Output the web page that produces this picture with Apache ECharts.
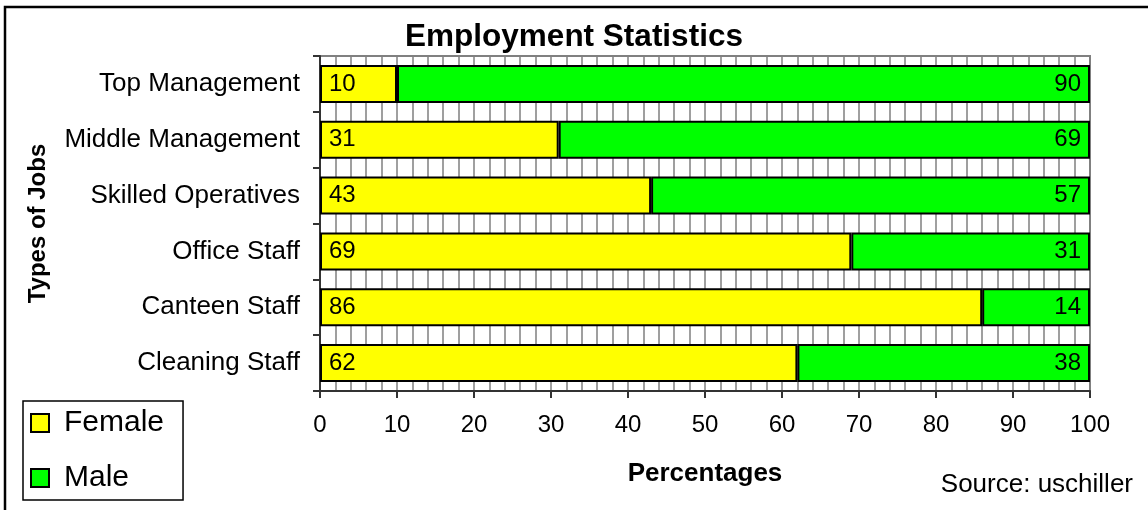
<!DOCTYPE html>
<html>
<head>
<meta charset="utf-8">
<script src="https://cdn.jsdelivr.net/npm/echarts@6/dist/echarts.min.js"></script>
<style>
html,body{margin:0;padding:0;background:#fff;}
#chart{width:1148px;height:510px;}
</style>
</head>
<body>
<div id="chart"></div>
<script>
const categories = ['Top Management','Middle Management','Skilled Operatives','Office Staff','Canteen Staff','Cleaning Staff'];
const female = [10, 31, 43, 69, 86, 62];
const male = [90, 69, 57, 31, 14, 38];
const xTicks = {min: 0, max: 100, interval: 10};

const FONT = '"Liberation Sans", Arial, sans-serif';
const chart = echarts.init(document.getElementById('chart'));
chart.setOption({
  backgroundColor: '#fff',
  animation: false,
  textStyle: {fontFamily: FONT},
  title: {
    text: 'Employment Statistics',
    left: 'center', top: 16,
    textStyle: {fontSize: 31.5, fontWeight: 'bold', color: '#000', fontFamily: FONT}
  },
  legend: {
    orient: 'vertical',
    left: 23, top: 401,
    itemWidth: 18, itemHeight: 18,
    itemGap: 25,
    icon: 'rect',
    borderColor: '#000', borderWidth: 1.5,
    padding: [7, 19, 7, 7],
    textStyle: {fontSize: 30, color: '#000', fontFamily: FONT, padding: [0, 0, 0, 10]},
    data: ['Female', 'Male']
  },
  grid: {left: 320, right: 58, top: 56, bottom: 119, show: true, borderColor: '#808080', borderWidth: 2},
  xAxis: {
    type: 'value',
    min: xTicks.min, max: xTicks.max, interval: xTicks.interval,
    name: 'Percentages', nameLocation: 'middle', nameGap: 70,
    nameTextStyle: {fontSize: 26, fontWeight: 'bold', color: '#000', fontFamily: FONT},
    axisLine: {show: true, lineStyle: {color: '#333', width: 2}},
    axisTick: {show: true, length: 7, lineStyle: {color: '#333', width: 2}},
    minorTick: {show: false, splitNumber: 5},
    axisLabel: {fontSize: 24, color: '#000', margin: 22, fontFamily: FONT},
    splitLine: {show: true, lineStyle: {color: '#808080', width: 1.5}},
    minorSplitLine: {show: true, lineStyle: {color: '#808080', width: 1.5}}
  },
  yAxis: {
    type: 'category',
    inverse: true,
    data: categories,
    name: 'Types of Jobs', nameLocation: 'middle', nameRotate: 90, nameGap: 270,
    nameTextStyle: {fontSize: 24, fontWeight: 'bold', color: '#000', fontFamily: FONT},
    axisLine: {show: true, lineStyle: {color: '#333', width: 2}},
    axisTick: {show: true, length: 7, lineStyle: {color: '#333', width: 2}},
    axisLabel: {fontSize: 26, color: '#000', margin: 20, fontFamily: FONT},
    splitLine: {show: false}
  },
  graphic: [
    {type: 'rect', shape: {x: 5, y: 7, width: 1300, height: 700}, style: {fill: 'none', stroke: '#000', lineWidth: 2.5}, silent: true, z: 100},
    {type: 'text', right: 15, top: 472, style: {text: 'Source: uschiller', font: '26px "Liberation Sans", Arial, sans-serif', fill: '#000'}}
  ],
  series: [
    {
      name: 'Female', type: 'bar', stack: 'total', barWidth: 38,
      data: female,
      itemStyle: {color: '#ffff00', borderColor: '#000', borderWidth: 2},
      label: {show: true, position: 'insideLeft', distance: 9, fontSize: 24, color: '#000', fontFamily: FONT}
    },
    {
      name: 'Male', type: 'bar', stack: 'total', barWidth: 38,
      data: male,
      itemStyle: {color: '#00ff00', borderColor: '#000', borderWidth: 2},
      label: {show: true, position: 'insideRight', distance: 9, fontSize: 24, color: '#000', fontFamily: FONT}
    }
  ]
});
</script>
</body>
</html>
